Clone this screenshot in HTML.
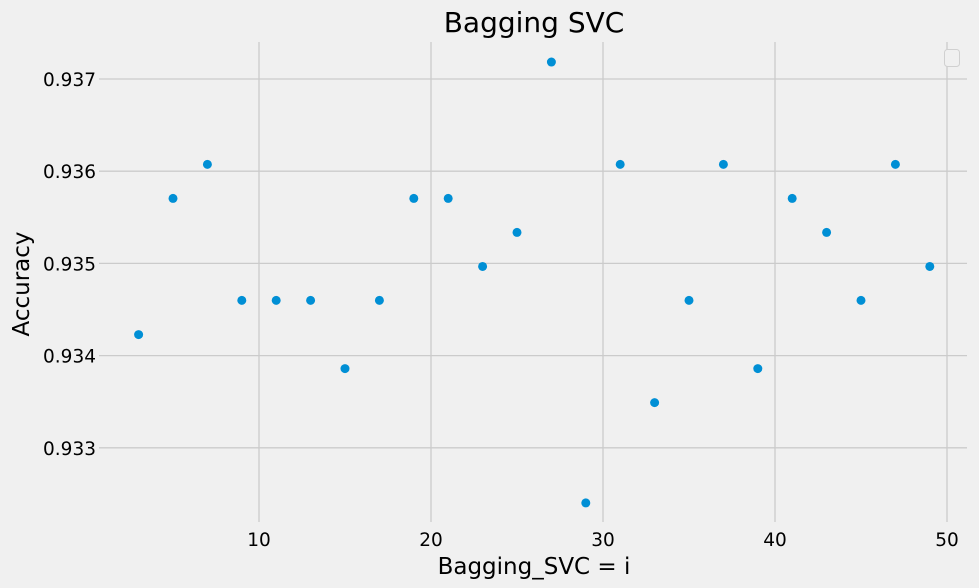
<!DOCTYPE html>
<html><head><meta charset="utf-8"><style>
html,body{margin:0;padding:0;background:#f0f0f0;}
svg{display:block;font-family:"DejaVu Sans","Liberation Sans",sans-serif;}
</style></head><body>
<svg id="chart" width="979" height="588">
<rect width="979" height="588" fill="#f0f0f0"/>
<g id="grid"></g>
<g id="ticks"></g>
<g id="points"></g>
<text x="534" y="32" font-size="28" text-anchor="middle" fill="#000">Bagging SVC</text>
<text x="534" y="574" font-size="23" text-anchor="middle" fill="#000">Bagging_SVC = i</text>
<text transform="translate(29,284) rotate(-90)" font-size="23" text-anchor="middle" fill="#000">Accuracy</text>
<rect x="944.5" y="49.5" width="15" height="17" rx="3" fill="#f0f0f0" stroke="#d0d0d0"/>
</svg>
<script>
const xValues = [3,5,7,9,11,13,15,17,19,21,23,25,27,29,31,33,35,37,39,41,43,45,47,49];
const accuracy = [0.934228,0.935705,0.936074,0.934599,0.934599,0.934599,0.933859,0.934599,0.935705,0.935705,0.934967,0.935336,0.937184,0.932402,0.936074,0.933490,0.934599,0.936074,0.933859,0.935705,0.935336,0.934599,0.936074,0.934967];
const xTicks = [10,20,30,40,50];
const yTicks = [0.933,0.934,0.935,0.936,0.937];

const L=99,R=967,T=42,B=522;
function sx(v){return 87+(v)*17.2;}
function sy(v){return 79+(0.937-v)*92200;}
const NS="http://www.w3.org/2000/svg";
function mk(tag,attrs,parent){const e=document.createElementNS(NS,tag);for(const k in attrs)e.setAttribute(k,attrs[k]);document.getElementById(parent).appendChild(e);return e;}

xTicks.forEach(t=>{
  const l=mk('line',{x1:sx(t),x2:sx(t),y1:T,y2:B,stroke:'#cbcbcb','stroke-width':1.3},'grid');
  
  
  const tx=mk('text',{x:sx(t),y:B+24,'font-size':18.5,'text-anchor':'middle',fill:'#000'},'ticks');
  tx.textContent=t;
  
  
});
yTicks.forEach(t=>{
  const l=mk('line',{x1:L,x2:R,y1:sy(t),y2:sy(t),stroke:'#cbcbcb','stroke-width':1.3},'grid');
  
  
  const tx=mk('text',{x:L-3,y:sy(t)+7,'font-size':18.5,'text-anchor':'end',fill:'#000'},'ticks');
  tx.textContent=t.toFixed(3);
  
  
});
xValues.forEach((x,i)=>{
  const c=mk('circle',{cx:sx(x),cy:sy(accuracy[i]),r:4.5,fill:'#008fd5'},'points');
  
  
});
</script>
</body></html>
